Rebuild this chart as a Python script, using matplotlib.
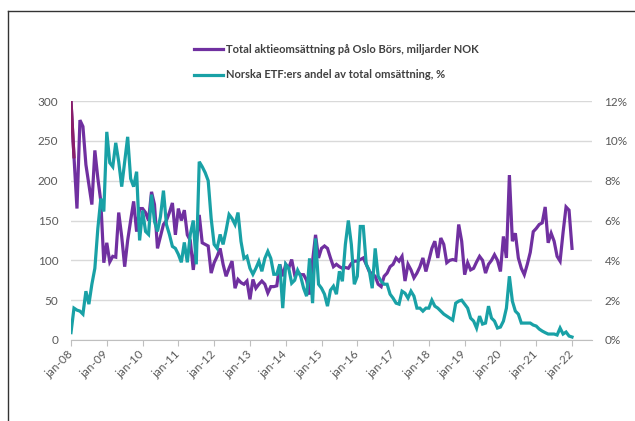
import matplotlib.pyplot as plt
from matplotlib.lines import Line2D

# monthly data, jan-08 .. jan-22
omsattning = [
    300, 230, 165, 276, 268, 220, 195, 170, 238, 203, 174, 97,      # 2008
    122, 98, 105, 104, 160, 130, 92, 125, 150, 174, 136, 165,       # 2009
    165, 160, 150, 186, 170, 115, 130, 145, 150, 160, 172, 132,     # 2010
    165, 150, 163, 132, 125, 88, 120, 157, 122, 120, 118, 84,       # 2011
    97, 105, 115, 95, 80, 90, 99, 65, 76, 72, 70, 74,               # 2012
    51, 76, 65, 70, 74, 70, 59, 67, 67, 68, 95, 80,                 # 2013
    95, 90, 101, 82, 85, 82, 82, 75, 57, 99, 132, 103,              # 2014
    115, 118, 115, 103, 92, 95, 92, 90, 91, 90, 96, 99,             # 2015
    99, 101, 103, 95, 86, 83, 80, 70, 67, 80, 84, 92,               # 2016
    95, 103, 99, 105, 74, 95, 88, 78, 84, 92, 103, 86,              # 2017
    100, 115, 124, 103, 128, 120, 97, 100, 101, 100, 145, 124,      # 2018
    82, 97, 88, 90, 98, 105, 100, 84, 95, 100, 107, 100,            # 2019
    86, 130, 103, 207, 124, 134, 103, 90, 82, 95, 110, 136,         # 2020
    140, 145, 147, 167, 122, 134, 124, 105, 99, 135, 167, 163,      # 2021
    115,                                                            # 2022
]

etf_andel = [
    0.37, 1.6, 1.5, 1.45, 1.3, 2.45, 1.8, 2.8, 3.6, 5.6, 7.1, 6.45,
    10.45, 8.9, 8.7, 9.9, 8.95, 7.7, 8.95, 10.2, 8.1, 7.7, 8.45, 5.0,
    6.5, 5.45, 5.3, 7.3, 5.95, 5.45, 6.2, 7.5, 5.8, 5.3, 4.7, 4.6,
    4.3, 3.9, 4.9, 3.9, 5.3, 6.0, 3.8, 8.95, 8.7, 8.4, 8.0, 6.1,
    4.8, 4.6, 5.3, 4.8, 5.5, 6.3, 6.1, 5.8, 6.4, 4.95, 4.1, 4.2,
    3.6, 3.3, 3.6, 3.95, 3.45, 4.1, 4.45, 4.1, 3.3, 3.3, 3.8, 1.6,
    3.8, 3.6, 2.85, 3.0, 3.5, 3.2, 2.6, 2.2, 4.1, 1.85, 5.1, 2.8,
    2.6, 2.3, 1.7, 2.5, 2.7, 2.3, 3.45, 2.95, 4.8, 6.0, 4.8, 2.8,
    3.2, 5.7, 5.7, 3.8, 3.5, 2.6, 4.6, 3.2, 2.95, 2.8, 2.8, 2.3,
    2.1, 1.85, 1.8, 2.45, 2.35, 2.1, 2.45, 2.2, 1.6, 1.6, 1.45, 1.6,
    1.6, 2.0, 1.7, 1.6, 1.45, 1.3, 1.2, 1.1, 1.0, 1.85, 1.95, 2.0,
    1.8, 1.6, 1.1, 0.95, 0.6, 1.2, 0.8, 0.85, 1.7, 1.1, 0.95, 0.6,
    0.65, 0.95, 1.6, 3.2, 1.95, 1.45, 1.3, 0.85, 0.85, 0.85, 0.85, 0.75,
    0.7, 0.55, 0.45, 0.37, 0.3, 0.3, 0.3, 0.25, 0.6, 0.3, 0.4, 0.2,
    0.15,
]

years = ['08', '09', '10', '11', '12', '13', '14', '15',
         '16', '17', '18', '19', '20', '21', '22']
tick_labels = ['jan-' + y for y in years]

label_oms = 'Total aktieomsättning på Oslo Börs, miljarder NOK'
label_etf = 'Norska ETF:ers andel av total omsättning, %'

purple = '#7030A0'
teal = '#19A1A6'
grid_col = '#D9D9D9'
text_col = '#595959'

plt.rcParams['font.family'] = ['Lato', 'DejaVu Sans']

fig = plt.figure(figsize=(6.35, 4.21), dpi=100)
ax = fig.add_axes([71 / 635, 81 / 421, 521 / 635, 239 / 421])
ax2 = ax.twinx()

x = list(range(len(omsattning)))
ax.plot(x, omsattning, color=purple, lw=2.3, solid_joinstyle='miter')
ax.plot(x[:2], omsattning[:2], color='#8A1E6A', lw=2.3)
ax2.plot(x, etf_andel, color=teal, lw=2.3, solid_joinstyle='miter')

ax.set_xlim(0, 174.7)
ax.set_ylim(0, 300)
ax2.set_ylim(0, 12)

ax.set_yticks(range(0, 301, 50))
ax2.set_yticks(range(0, 13, 2))
ax2.set_yticklabels([f'{v}%' for v in range(0, 13, 2)])
ax.set_xticks(range(0, len(omsattning), 12))
ax.set_xticklabels(tick_labels, rotation=45, ha='right', va='center',
                   rotation_mode='anchor')

ax.grid(axis='y', color=grid_col, lw=1.0)
ax.set_axisbelow(True)
for a in (ax, ax2):
    for s in a.spines.values():
        s.set_visible(False)
ax.spines['bottom'].set_visible(True)
ax.spines['bottom'].set_color('#BFBFBF')

ax.tick_params(axis='y', length=0, pad=9, labelsize=8.5, labelcolor=text_col)
ax2.tick_params(axis='y', length=0, pad=9, labelsize=8.5, labelcolor=text_col)
ax.tick_params(axis='x', length=4, color='#BFBFBF', pad=5,
               labelsize=8.5, labelcolor=text_col)

handles = [Line2D([], [], color=purple, lw=2.3),
           Line2D([], [], color=teal, lw=2.3)]
leg = fig.legend(handles, [label_oms, label_etf], loc='upper left',
                 bbox_to_anchor=(184 / 635, 1 - 34 / 421), frameon=False,
                 handlelength=2.6, handletextpad=0.25, labelspacing=1.3,
                 prop={'weight': 'bold', 'size': 8})
for t in leg.get_texts():
    t.set_color('#404040')

# frame lines at top and left of the picture
fig.add_artist(Line2D([8 / 635, 1], [1 - 11 / 421, 1 - 11 / 421],
                      color='#333333', lw=1.0))
fig.add_artist(Line2D([8 / 635, 8 / 635], [0, 1 - 11 / 421],
                      color='#333333', lw=1.0))

fig.savefig('out.png', dpi=100)
